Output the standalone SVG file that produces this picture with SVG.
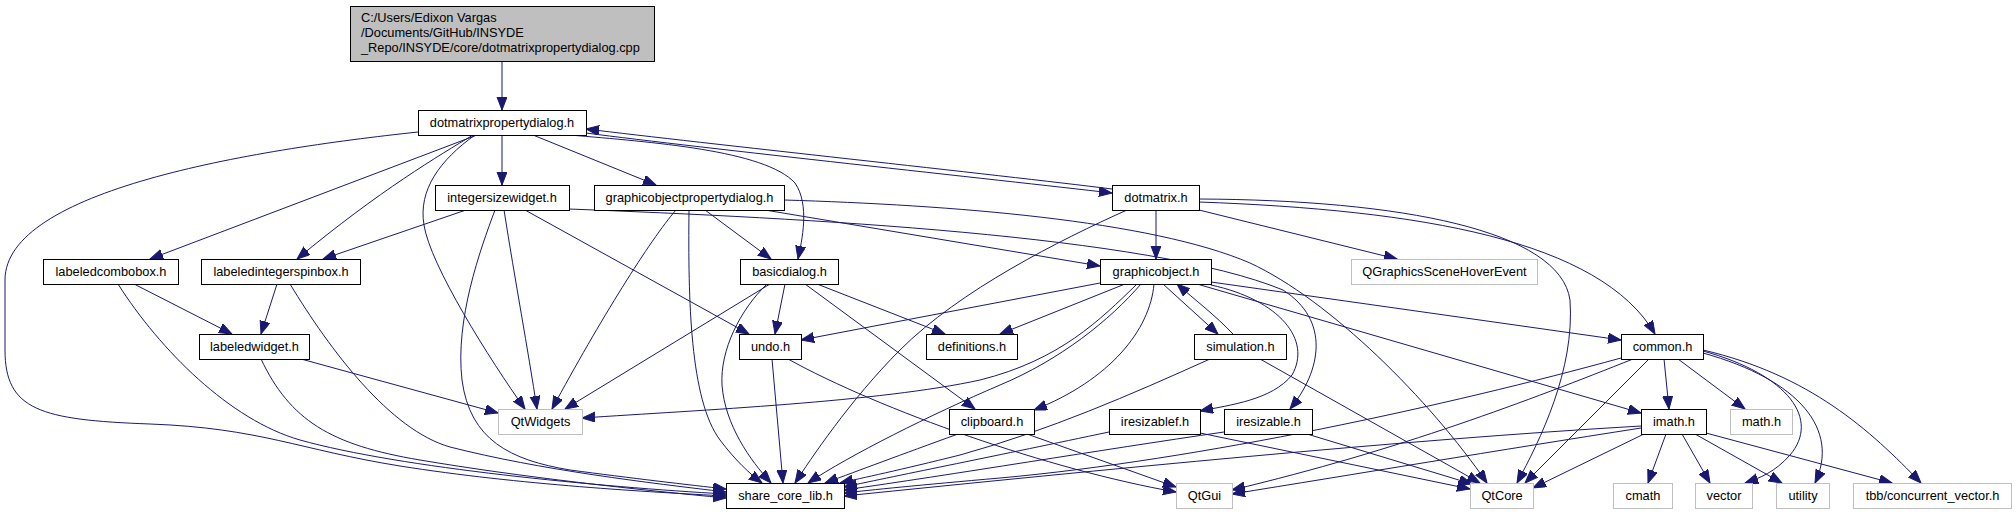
<svg xmlns="http://www.w3.org/2000/svg" width="2016" height="515" viewBox="0 0 2016 515">
<style>
.n rect{fill:#fff;stroke:#000;stroke-width:1}
.x rect{fill:#fff;stroke:#bfbfbf;stroke-width:1}
.r rect{fill:#bfbfbf;stroke:#000;stroke-width:1}
text{font-family:"Liberation Sans",Arial,sans-serif;font-size:12.8px;fill:#000}
.c{text-anchor:middle}
#edges path{fill:none;stroke:#191970;stroke-width:1;marker-end:url(#a)}
</style>
<defs>
<marker id="a" markerUnits="userSpaceOnUse" markerWidth="14" markerHeight="11" refX="13" refY="5" orient="auto">
<path d="M0,0 L13,5 L0,10 z" fill="#191970" stroke="#191970" stroke-width="1"/>
</marker>
</defs>
<rect width="2016" height="515" fill="#fff"/>
<g id="edges">
<path d="M502,61 L502,110"/>
<path d="M418,132 C250,150 5,190 5,280 L5,350 C5,410 40,420 150,424 C260,428 300,450 400,466 C520,485 650,492 726,496"/>
<path d="M477,135 L150,259"/>
<path d="M473,135 C440,155 380,190 297,259"/>
<path d="M475,135 C440,160 418,190 424,225 C430,265 490,360 525,409"/>
<path d="M502,135 L502,185"/>
<path d="M533,135 L656,185"/>
<path d="M570,135 C650,142 765,150 795,183 C810,205 802,240 798,259"/>
<path d="M586,133 C700,148 1000,180 1112,193"/>
<path d="M1112,189 C1000,175 700,143 586,129"/>
<path d="M466,210 L323,259"/>
<path d="M495,210 C480,250 455,320 462,380 C470,440 510,460 570,470 C630,478 690,485 726,489"/>
<path d="M504,210 C515,280 528,350 537,409"/>
<path d="M525,210 L749,334"/>
<path d="M569,209 C800,218 1150,235 1283,290 C1330,320 1322,370 1290,409"/>
<path d="M676,210 C650,240 600,320 552,409"/>
<path d="M689,210 C688,300 690,400 720,440 C735,460 750,474 762,483"/>
<path d="M705,210 L771,259"/>
<path d="M765,210 L1100,266"/>
<path d="M784,200 C950,205 1150,220 1250,263 C1330,300 1430,400 1487,483"/>
<path d="M1127,210 C1060,240 960,290 900,350 C850,400 810,460 795,483"/>
<path d="M1156,210 L1156,259"/>
<path d="M1199,210 L1397,259"/>
<path d="M1199,199 C1400,200 1560,230 1570,300 C1575,370 1540,440 1517,483"/>
<path d="M1199,202 C1420,210 1600,240 1655,334"/>
<path d="M134,284 L232,334"/>
<path d="M118,284 C160,350 230,420 300,440 C400,468 600,487 726,494"/>
<path d="M277,284 L261,334"/>
<path d="M290,284 C330,350 390,430 450,447 C540,470 650,483 726,492"/>
<path d="M301,359 L498,413"/>
<path d="M261,359 C290,420 330,445 420,460 C520,477 640,490 726,498"/>
<path d="M770,284 L565,409"/>
<path d="M785,284 L775,334"/>
<path d="M767,284 C740,310 720,350 722,385 C725,425 750,460 771,483"/>
<path d="M817,284 L945,334"/>
<path d="M805,284 L975,409"/>
<path d="M1100,283 L801,340"/>
<path d="M1125,284 L1000,334"/>
<path d="M1137,284 C1100,320 1060,360 980,380 C880,402 700,410 582,418"/>
<path d="M1141,284 C1110,320 1060,360 1000,385 C930,415 850,455 808,483"/>
<path d="M1154,284 C1150,330 1110,380 1034,410"/>
<path d="M1163,284 L1218,334"/>
<path d="M1233,334 C1215,315 1195,300 1177,284"/>
<path d="M1211,285 C1280,300 1312,340 1292,375 C1272,400 1230,405 1200,411"/>
<path d="M1211,282 L1621,340"/>
<path d="M1197,284 L1641,413"/>
<path d="M1210,359 C1130,395 1050,430 960,455 C900,470 862,478 840,483"/>
<path d="M1260,359 L1480,483"/>
<path d="M772,359 L783,483"/>
<path d="M788,359 C880,410 1050,470 1176,492"/>
<path d="M958,434 C900,455 860,470 825,483"/>
<path d="M1027,434 L1176,487"/>
<path d="M1109,432 C1000,455 900,475 844,487"/>
<path d="M1200,433 L1470,489"/>
<path d="M1224,432 C1100,450 950,475 844,490"/>
<path d="M1307,434 L1472,484"/>
<path d="M1621,358 C1450,405 1200,460 1000,478 C920,485 870,490 844,493"/>
<path d="M1633,359 C1530,400 1400,450 1232,490"/>
<path d="M1649,359 L1525,483"/>
<path d="M1664,359 L1669,409"/>
<path d="M1678,359 L1745,409"/>
<path d="M1703,351 C1790,375 1820,420 1790,455 C1775,472 1760,478 1745,483"/>
<path d="M1703,353 C1800,380 1840,430 1815,483"/>
<path d="M1703,350 C1810,375 1870,430 1921,483"/>
<path d="M1641,426 C1400,440 1100,470 844,496"/>
<path d="M1641,428 C1500,450 1350,475 1232,494"/>
<path d="M1644,434 L1533,488"/>
<path d="M1666,434 L1648,483"/>
<path d="M1682,434 L1710,483"/>
<path d="M1695,434 L1782,483"/>
<path d="M1706,433 L1892,483"/>
</g>
<g id="root" class="r"><rect x="350.5" y="6.5" width="304" height="55"/>
<text x="361" y="21.5">C:/Users/Edixon Vargas</text>
<text x="361" y="36.5">/Documents/GitHub/INSYDE</text>
<text x="361" y="51.5">_Repo/INSYDE/core/dotmatrixpropertydialog.cpp</text></g>
<g id="dotmatrixpropertydialog" class="n"><rect x="418.5" y="110.5" width="168" height="25"/><text class="c" x="502" y="127">dotmatrixpropertydialog.h</text></g>
<g id="integersizewidget" class="n"><rect x="435.5" y="185.5" width="134" height="25"/><text class="c" x="502" y="202">integersizewidget.h</text></g>
<g id="graphicobjectpropertydialog" class="n"><rect x="594.5" y="185.5" width="190" height="25"/><text class="c" x="689.5" y="202">graphicobjectpropertydialog.h</text></g>
<g id="dotmatrix" class="n"><rect x="1112.5" y="185.5" width="87" height="25"/><text class="c" x="1156" y="202">dotmatrix.h</text></g>
<g id="labeledcombobox" class="n"><rect x="43.5" y="259.5" width="135" height="25"/><text class="c" x="111" y="276">labeledcombobox.h</text></g>
<g id="labeledintegerspinbox" class="n"><rect x="201.5" y="259.5" width="159" height="25"/><text class="c" x="281" y="276">labeledintegerspinbox.h</text></g>
<g id="basicdialog" class="n"><rect x="740.5" y="259.5" width="98" height="25"/><text class="c" x="789.5" y="276">basicdialog.h</text></g>
<g id="graphicobject" class="n"><rect x="1100.5" y="259.5" width="111" height="25"/><text class="c" x="1156" y="276">graphicobject.h</text></g>
<g id="QGraphicsSceneHoverEvent" class="x"><rect x="1351.5" y="259.5" width="186" height="25"/><text class="c" x="1444.5" y="276">QGraphicsSceneHoverEvent</text></g>
<g id="labeledwidget" class="n"><rect x="199.5" y="334.5" width="110" height="25"/><text class="c" x="254.5" y="351">labeledwidget.h</text></g>
<g id="undo" class="n"><rect x="739.5" y="334.5" width="62" height="25"/><text class="c" x="770.5" y="351">undo.h</text></g>
<g id="definitions" class="n"><rect x="926.5" y="334.5" width="91" height="25"/><text class="c" x="972" y="351">definitions.h</text></g>
<g id="simulation" class="n"><rect x="1194.5" y="334.5" width="92" height="25"/><text class="c" x="1240.5" y="351">simulation.h</text></g>
<g id="common" class="n"><rect x="1621.5" y="334.5" width="82" height="25"/><text class="c" x="1662.5" y="351">common.h</text></g>
<g id="QtWidgets" class="x"><rect x="498.5" y="409.5" width="84" height="25"/><text class="c" x="540.5" y="426">QtWidgets</text></g>
<g id="clipboard" class="n"><rect x="949.5" y="409.5" width="85" height="25"/><text class="c" x="992" y="426">clipboard.h</text></g>
<g id="iresizablef" class="n"><rect x="1109.5" y="409.5" width="91" height="25"/><text class="c" x="1155" y="426">iresizablef.h</text></g>
<g id="iresizable" class="n"><rect x="1224.5" y="409.5" width="88" height="25"/><text class="c" x="1268.5" y="426">iresizable.h</text></g>
<g id="imath" class="n"><rect x="1641.5" y="409.5" width="65" height="25"/><text class="c" x="1674" y="426">imath.h</text></g>
<g id="math" class="x"><rect x="1730.5" y="409.5" width="62" height="25"/><text class="c" x="1761.5" y="426">math.h</text></g>
<g id="share_core_lib" class="n"><rect x="726.5" y="483.5" width="118" height="25"/><text class="c" x="785.5" y="500">share_core_lib.h</text></g>
<g id="QtGui" class="x"><rect x="1176.5" y="483.5" width="56" height="25"/><text class="c" x="1204.5" y="500">QtGui</text></g>
<g id="QtCore" class="x"><rect x="1470.5" y="483.5" width="63" height="25"/><text class="c" x="1502" y="500">QtCore</text></g>
<g id="cmath" class="x"><rect x="1613.5" y="483.5" width="59" height="25"/><text class="c" x="1643" y="500">cmath</text></g>
<g id="vector" class="x"><rect x="1695.5" y="483.5" width="57" height="25"/><text class="c" x="1724" y="500">vector</text></g>
<g id="utility" class="x"><rect x="1776.5" y="483.5" width="53" height="25"/><text class="c" x="1803" y="500">utility</text></g>
<g id="tbb_concurrent_vector" class="x"><rect x="1853.5" y="483.5" width="158" height="25"/><text class="c" x="1932.5" y="500">tbb/concurrent_vector.h</text></g>
</svg>
